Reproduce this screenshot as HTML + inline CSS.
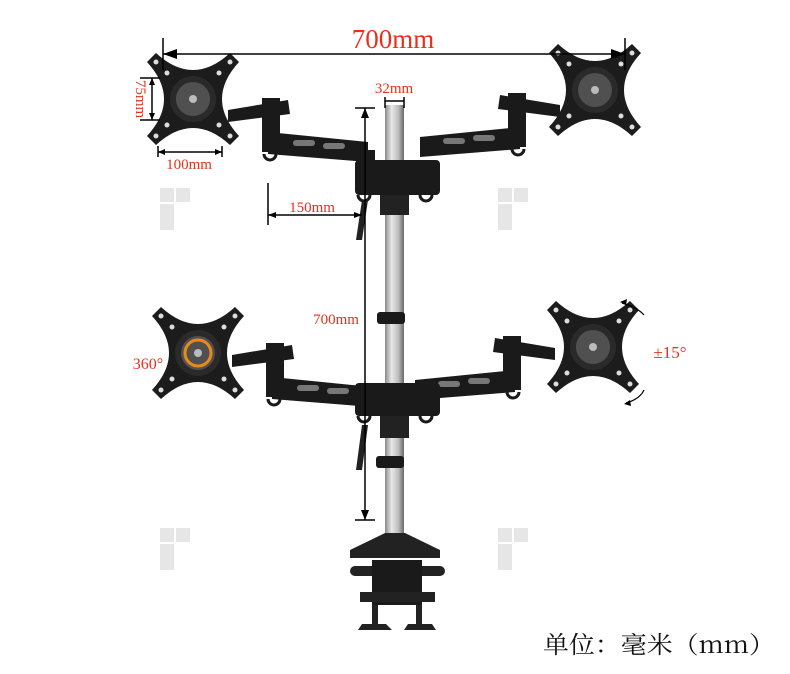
<!DOCTYPE html>
<html><head><meta charset="utf-8"><style>
html,body{margin:0;padding:0;background:#fff;width:790px;height:674px;overflow:hidden}
svg{display:block}
.r{fill:#e8301c;font-family:"Liberation Serif","Noto Serif CJK SC",serif}
</style></head><body>
<svg width="790" height="674" viewBox="0 0 790 674" xmlns="http://www.w3.org/2000/svg">
<defs>
<linearGradient id="pole" x1="0" x2="1"><stop offset="0" stop-color="#8a8a8a"/><stop offset="0.35" stop-color="#e8e8e8"/><stop offset="0.7" stop-color="#bdbdbd"/><stop offset="1" stop-color="#6a6a6a"/></linearGradient>
<g id="plate">
<path d="M-46,-37 L-37,-46 Q0,-12 37,-46 L46,-37 Q12,0 46,37 L37,46 Q0,12 -37,46 L-46,37 Q-12,0 -46,-37Z" fill="#1c1c1c"/>
<circle r="23" fill="#2a2a2a"/><circle r="17" fill="#505050"/><circle r="4" fill="#bbb"/>
<g fill="#ddd"><circle cx="-37" cy="-37" r="2.5"/><circle cx="37" cy="-37" r="2.5"/><circle cx="-37" cy="37" r="2.5"/><circle cx="37" cy="37" r="2.5"/>
<circle cx="-26" cy="-26" r="2.5"/><circle cx="26" cy="-26" r="2.5"/><circle cx="-26" cy="26" r="2.5"/><circle cx="26" cy="26" r="2.5"/></g>
</g>
<g id="armL" fill="#1a1a1a">
<path d="M0,0 L60,-10 L62,4 L0,12Z"/>
<rect x="34" y="-12" width="18" height="54"/>
<path d="M40,22 L140,32 L140,52 L40,44Z"/>
<g fill="#777"><rect x="65" y="30" width="22" height="6" rx="3"/><rect x="95" y="33" width="22" height="6" rx="3"/></g>
<path d="M36,44 a6,6 0 1 0 12,0" fill="none" stroke="#1a1a1a" stroke-width="3"/>
</g>
</defs>
<g fill="#e6e6e6">
<rect x="160" y="188" width="14" height="14"/><rect x="176" y="188" width="14" height="14"/><rect x="160" y="204" width="14" height="26"/>
<rect x="498" y="188" width="14" height="14"/><rect x="514" y="188" width="14" height="14"/><rect x="498" y="204" width="14" height="26"/>
<rect x="160" y="528" width="14" height="14"/><rect x="176" y="528" width="14" height="14"/><rect x="160" y="544" width="14" height="26"/>
<rect x="498" y="528" width="14" height="14"/><rect x="514" y="528" width="14" height="14"/><rect x="498" y="544" width="14" height="26"/>
</g>
<rect x="385" y="105" width="19" height="440" fill="url(#pole)"/>
<use href="#armL" x="228" y="110"/>
<g transform="translate(560,105) scale(-1,1)"><use href="#armL"/></g>
<path d="M360,150 L375,150 L375,170 L360,170Z" fill="#1a1a1a"/>
<rect x="355" y="160" width="85" height="35" rx="4" fill="#1a1a1a"/>
<rect x="380" y="195" width="29" height="20" fill="#222"/>
<path d="M362,200 L368,200 L362,240 L356,240Z" fill="#222"/>
<path d="M358,195 a6,6 0 1 0 12,0 M420,195 a6,6 0 1 0 12,0" fill="none" stroke="#1a1a1a" stroke-width="3"/>
<rect x="377" y="312" width="28" height="12" rx="3" fill="#1a1a1a"/>
<use href="#armL" x="232" y="355"/>
<g transform="translate(555,348) scale(-1,1)"><use href="#armL"/></g>
<rect x="355" y="383" width="85" height="33" rx="4" fill="#1a1a1a"/>
<rect x="380" y="416" width="29" height="22" fill="#222"/>
<path d="M362,425 L368,425 L362,470 L356,470Z" fill="#222"/>
<path d="M358,416 a6,6 0 1 0 12,0 M420,416 a6,6 0 1 0 12,0" fill="none" stroke="#1a1a1a" stroke-width="3"/>
<rect x="376" y="456" width="28" height="12" rx="3" fill="#1a1a1a"/>
<path d="M385,533 L405,533 L440,550 L440,558 L350,558 L350,550Z" fill="#222"/>
<rect x="350" y="566" width="95" height="10" rx="5" fill="#222"/>
<rect x="372" y="560" width="50" height="45" fill="#1a1a1a"/>
<rect x="360" y="592" width="75" height="10" fill="#222"/>
<rect x="372" y="605" width="6" height="20" fill="#222"/><rect x="416" y="605" width="6" height="20" fill="#222"/>
<path d="M358,630 L392,630 L386,624 L362,624Z M404,630 L436,630 L432,624 L408,624Z" fill="#222"/>
<use href="#plate" x="193" y="99"/>
<use href="#plate" x="595" y="90"/>
<use href="#plate" x="198" y="353"/>
<use href="#plate" x="593" y="347"/>
<circle cx="198" cy="353" r="13" fill="none" stroke="#e88a1a" stroke-width="3"/>
<g stroke="#000" stroke-width="1.5" fill="none">
<line x1="163" y1="38" x2="163" y2="70"/><line x1="625" y1="38" x2="625" y2="70"/>
<line x1="163" y1="54" x2="625" y2="54"/>
<line x1="385" y1="97" x2="385" y2="108"/><line x1="404" y1="97" x2="404" y2="108"/><line x1="385" y1="101" x2="404" y2="101"/>
<line x1="355" y1="108" x2="375" y2="108"/><line x1="365" y1="108" x2="365" y2="520"/><line x1="355" y1="520" x2="375" y2="520"/>
<line x1="268" y1="183" x2="268" y2="225"/><line x1="268" y1="215" x2="362" y2="215"/>
<line x1="158" y1="146" x2="158" y2="157"/><line x1="222" y1="146" x2="222" y2="157"/><line x1="158" y1="152" x2="222" y2="152"/>
<line x1="140" y1="78" x2="160" y2="78"/><line x1="140" y1="120" x2="160" y2="120"/><line x1="152" y1="78" x2="152" y2="120"/>
<path d="M622,303 q16,5 22,12 M626,403 q14,-4 18,-13" stroke-width="1.2"/>
</g>
<g fill="#000">
<path d="M163,54 l14,-5 v10Z M625,54 l-14,-5 v10Z"/>
<path d="M365,108 l-4,10 h8Z M365,520 l-4,-10 h8Z"/>
<path d="M268,215 l8,-3 v6Z M362,215 l-8,-3 v6Z"/>
<path d="M158,152 l7,-3 v6Z M222,152 l-7,-3 v6Z"/>
<path d="M152,78 l-3,7 h6Z M152,120 l-3,-7 h6Z"/>
<path d="M620,302 l7,-3 l-1,6Z M624,404 l6,-4 l1,6Z"/>
</g>
<text x="393" y="48" class="r" font-size="27" text-anchor="middle">700mm</text>
<text x="394" y="93" class="r" font-size="15" text-anchor="middle">32mm</text>
<text x="312" y="212" class="r" font-size="15" text-anchor="middle">150mm</text>
<text x="336" y="324" class="r" font-size="15" text-anchor="middle">700mm</text>
<text x="189" y="169" class="r" font-size="15" text-anchor="middle">100mm</text>
<text class="r" font-size="15" text-anchor="middle" transform="translate(136,99) rotate(90)">75mm</text>
<text x="148" y="369" class="r" font-size="16" text-anchor="middle">360°</text>
<text x="670" y="358" class="r" font-size="17" text-anchor="middle">±15°</text>
<text x="543" y="653" font-size="24" fill="#111" font-family="'Noto Serif CJK SC','Liberation Serif',serif" textLength="232" lengthAdjust="spacingAndGlyphs">单位：毫米（mm）</text>
</svg>
</body></html>
